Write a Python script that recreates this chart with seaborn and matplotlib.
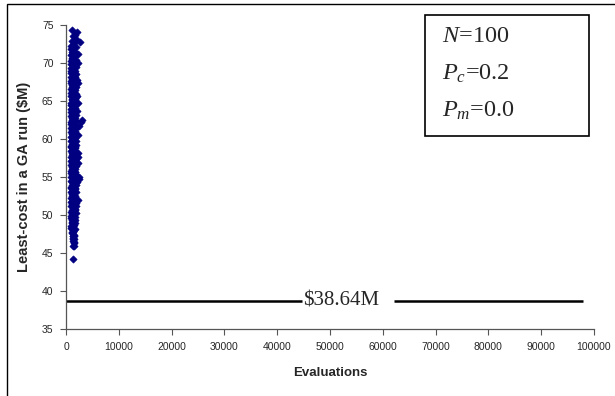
import matplotlib
matplotlib.use("Agg")
import matplotlib.pyplot as plt
import seaborn as sns
import pandas as pd
from matplotlib.patches import Rectangle

# Evaluations needed and least cost found, one entry per GA run
evaluations = [
    980, 1120, 900, 1050, 1210, 940, 1080, 1160, 870, 1010,
    1190, 930, 1100, 1030, 880, 1240, 960, 1140, 1000, 910,
    1180, 1060, 890, 1220, 990, 1130, 950, 1070, 1200, 920,
    1040, 1170, 860, 1110, 1020, 1230, 970, 1090, 1150, 900,
    1010, 1190, 940, 1060, 880, 1120, 1230, 990, 1080, 920,
    1160, 1030, 870, 1200, 950, 1100, 1050, 910, 1180, 1000,
    1140, 890, 1070, 1210, 960, 1040, 1130, 930, 1250, 980,
    1090, 1170, 900, 1020, 1220, 950, 1110, 1060, 880, 1190,
    1000, 1150, 930, 1240, 1080, 970, 1120, 1030, 890, 1200,
    1050, 1160, 940, 1010, 1230, 1090, 1140, 1280, 1350, 1420,
    1380, 1520, 1290, 1610, 1450, 1330, 1570, 1410, 1260, 1640,
    1480, 1350, 1590, 1300, 1430, 1550, 1270, 1500, 1620, 1370,
    1460, 1310, 1580, 1400, 1530, 1280, 1650, 1440, 1340, 1510,
    1600, 1390, 1260, 1470, 1560, 1320, 1420, 1630, 1360, 1490,
    1270, 1540, 1410, 1600, 1330, 1460, 1580, 1300, 1520, 1380,
    1640, 1440, 1290, 1500, 1370, 1610, 1420, 1560, 1320, 1480,
    1260, 1550, 1400, 1630, 1350, 1470, 1590, 1310, 1530, 1430,
    1280, 1620, 1390, 1510, 1340, 1570, 1450, 1300, 1600, 1410,
    1490, 1360, 1640, 1280, 1540, 1420, 1330, 1580, 1460, 1380,
    1520, 1300, 1610, 1440, 1350, 1480, 1400, 1460, 1430, 1450,
    1720, 1880, 1690, 1960, 1780, 1840, 1700, 2010, 1760, 1900,
    1680, 1820, 1950, 1740, 1860, 1710, 1990, 1800, 1670, 1920,
    1770, 1850, 1690, 1940, 1730, 1870, 1810, 1660, 1980, 1750,
    1830, 1700, 1910, 1790, 1680, 1870, 1740, 2000, 1820, 1710,
    1890, 1760, 1660, 1930, 1800, 1720, 1850, 1690, 1780, 1700,
    1080, 2140, 1650, 1370, 1850, 1050, 2650, 1560, 1280, 1900,
    2970, 2750, 2350, 2400, 2550, 1500, 1350, 1460, 1420, 1380,
    2300, 2200, 2250, 2150, 2300, 2400, 2200, 2180, 2280, 2220,
]
least_cost = [
    72.3, 72.0, 71.8, 71.5, 71.2, 71.0, 70.7, 70.5, 70.2, 69.9,
    69.7, 69.4, 69.2, 68.9, 68.7, 68.4, 68.1, 67.9, 67.6, 67.4,
    67.1, 66.9, 66.6, 66.3, 66.1, 65.8, 65.6, 65.3, 65.1, 64.8,
    64.5, 64.3, 64.0, 63.8, 63.5, 63.3, 63.0, 62.7, 62.5, 62.2,
    62.0, 61.7, 61.5, 61.2, 60.9, 60.7, 60.4, 60.2, 59.9, 59.7,
    59.4, 59.1, 58.9, 58.6, 58.4, 58.1, 57.9, 57.6, 57.3, 57.1,
    56.8, 56.6, 56.3, 56.1, 55.8, 55.5, 55.3, 55.0, 54.8, 54.5,
    54.3, 54.0, 53.7, 53.5, 53.2, 53.0, 52.7, 52.5, 52.2, 51.9,
    51.7, 51.4, 51.2, 50.9, 50.7, 50.4, 50.1, 49.9, 49.6, 49.4,
    49.1, 48.9, 48.6, 48.3, 48.1, 47.8, 47.6, 47.3, 47.0, 46.6,
    71.9, 71.6, 71.4, 71.1, 70.8, 70.6, 70.3, 70.1, 69.8, 69.6,
    69.3, 69.0, 68.8, 68.5, 68.3, 68.0, 67.8, 67.5, 67.2, 67.0,
    66.7, 66.5, 66.2, 66.0, 65.7, 65.4, 65.2, 64.9, 64.7, 64.4,
    64.2, 63.9, 63.6, 63.4, 63.1, 62.9, 62.6, 62.4, 62.1, 61.8,
    61.6, 61.3, 61.1, 60.8, 60.6, 60.3, 60.0, 59.8, 59.5, 59.3,
    59.0, 58.8, 58.5, 58.2, 58.0, 57.7, 57.5, 57.2, 57.0, 56.7,
    56.4, 56.2, 55.9, 55.7, 55.4, 55.2, 54.9, 54.6, 54.4, 54.1,
    53.9, 53.6, 53.4, 53.1, 52.8, 52.6, 52.3, 52.1, 51.8, 51.6,
    51.3, 51.0, 50.8, 50.5, 50.3, 50.0, 49.8, 49.5, 49.2, 49.0,
    48.7, 48.5, 48.2, 48.0, 47.7, 47.4, 47.2, 46.9, 46.3, 45.9,
    70.9, 70.4, 69.9, 69.5, 69.0, 68.6, 68.1, 67.7, 67.3, 66.8,
    66.4, 65.9, 65.5, 65.0, 64.6, 64.1, 63.7, 63.2, 62.8, 62.4,
    61.9, 61.5, 61.0, 60.6, 60.1, 59.7, 59.2, 58.8, 58.3, 57.9,
    57.4, 57.0, 56.5, 56.1, 55.6, 55.2, 54.8, 54.3, 53.9, 53.4,
    53.0, 52.5, 52.1, 51.6, 51.2, 50.7, 50.3, 49.8, 49.4, 48.9,
    74.4, 74.1, 73.7, 73.5, 73.2, 72.9, 72.7, 72.6, 72.4, 72.1,
    62.5, 62.3, 58.2, 55.0, 54.8, 47.3, 46.8, 46.4, 45.9, 44.2,
    71.2, 70.0, 67.4, 65.6, 64.7, 61.7, 60.5, 57.6, 56.9, 52.0,
]

# Global optimum reference line, drawn in two pieces around its label
optimum_cost = 38.64
optimum_label = "$38.64M"
line_left_span = [0, 44700]
line_right_span = [62100, 97900]

# GA parameter settings shown in the box
param_lines = [r"$N$=100", r"$P_c$=0.2", r"$P_m$=0.0"]

x_ticks = list(range(0, 100001, 10000))
y_ticks = list(range(35, 76, 5))

df = pd.DataFrame({"Evaluations": evaluations, "LeastCost": least_cost})

sns.set_theme(style="white")
plt.rcParams["font.family"] = ["Liberation Sans", "DejaVu Sans"]
plt.rcParams["mathtext.fontset"] = "custom"
plt.rcParams["mathtext.rm"] = "Liberation Serif"
plt.rcParams["mathtext.it"] = "Liberation Serif:italic"

fig = plt.figure(figsize=(6.15, 3.96), dpi=100)
ax = fig.add_axes([66 / 615, 1 - 329 / 396, (594 - 66) / 615, (329 - 25) / 396])

sns.scatterplot(data=df, x="Evaluations", y="LeastCost", ax=ax,
                marker="D", s=14, color="#000080", edgecolor="#000080",
                linewidth=0.4, legend=False, zorder=3)

ax.plot(line_left_span, [optimum_cost] * 2, color="black", lw=1.8, solid_capstyle="butt")
ax.plot(line_right_span, [optimum_cost] * 2, color="black", lw=1.8, solid_capstyle="butt")
ax.text(line_left_span[1] + 200, optimum_cost, optimum_label,
        family="Liberation Serif", fontsize=15, va="center", ha="left")

ax.set_xlim(0, 100000)
ax.set_ylim(35, 75)
ax.set_xticks(x_ticks)
ax.set_yticks(y_ticks)
ax.tick_params(axis="both", which="major", direction="out", length=4, width=0.8,
               color="#555555", labelsize=7.5, pad=5, left=True, bottom=True)
for side in ("top", "right"):
    ax.spines[side].set_visible(False)
for side in ("left", "bottom"):
    ax.spines[side].set_color("#555555")
    ax.spines[side].set_linewidth(0.9)

ax.set_xlabel("Evaluations", fontsize=9.5, fontweight="bold", labelpad=11)
ax.set_ylabel("Least-cost in a GA run ($M)", fontsize=10.5, fontweight="bold", labelpad=8)

# Parameter box
box_l, box_t, box_r, box_b = 425 / 615, 1 - 15 / 396, 589 / 615, 1 - 136 / 396
fig.patches.append(Rectangle((box_l, box_b), box_r - box_l, box_t - box_b,
                             transform=fig.transFigure, fill=False,
                             edgecolor="black", lw=1.2))
for i, s in enumerate(param_lines):
    fig.text(442 / 615, 1 - (37 + 37 * i) / 396, s, fontsize=17.5,
             family="Liberation Serif", va="center", ha="left")

# Outer chart frame
fig.patches.append(Rectangle((7 / 615, -0.1), 1.2, 1 - 4 / 396 + 0.1,
                             transform=fig.transFigure, fill=False,
                             edgecolor="black", lw=1.0))

fig.savefig("out.png", dpi=100)
